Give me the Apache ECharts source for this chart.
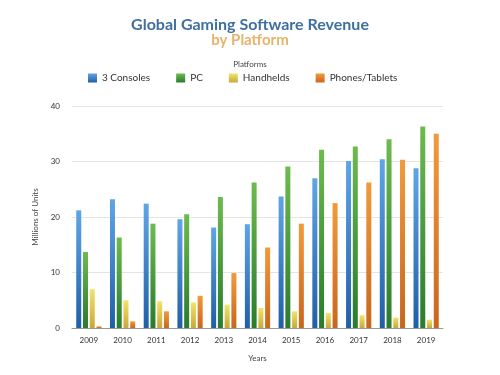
<!DOCTYPE html>
<html>
<head>
<meta charset="utf-8">
<script src="https://cdn.jsdelivr.net/npm/echarts@6/dist/echarts.min.js"></script>
<style>
html, body { margin: 0; padding: 0; background: #fff; }
#chart { width: 500px; height: 375px; }
</style>
</head>
<body>
<div id="chart"></div>
<script>
const years = ['2009', '2010', '2011', '2012', '2013', '2014', '2015', '2016', '2017', '2018', '2019'];
const consoles = [21.2, 23.2, 22.4, 19.6, 18.1, 18.7, 23.7, 27.0, 30.1, 30.4, 28.8];
const pc = [13.7, 16.3, 18.8, 20.5, 23.6, 26.2, 29.1, 32.1, 32.7, 34.0, 36.3];
const handhelds = [7.0, 5.0, 4.8, 4.6, 4.2, 3.6, 3.0, 2.7, 2.3, 1.9, 1.5];
const phones = [0.3, 1.2, 3.0, 5.8, 9.9, 14.5, 18.8, 22.5, 26.2, 30.3, 35.0];

const font = 'Lato, "Open Sans", sans-serif';

function grad(top, bottom) {
    return new echarts.graphic.LinearGradient(0, 0, 0, 1, [
        {offset: 0, color: top},
        {offset: 1, color: bottom}
    ]);
}

const chart = echarts.init(document.getElementById('chart'));
const mk = (name, data, top, bottom) => ({
    name: name,
    type: 'bar',
    data: data,
    barWidth: 5,
    barGap: '35%',
    itemStyle: {color: grad(top, bottom)}
});

chart.setOption({
    animation: false,
    title: [{
        text: 'Global Gaming Software Revenue',
        left: 'center',
        top: 12,
        textStyle: {fontFamily: font, fontSize: 16, fontWeight: 'bold', color: '#3f6f9f'}
    }, {
        text: 'by Platform',
        left: 'center',
        top: 28,
        textStyle: {fontFamily: font, fontSize: 15, fontWeight: 'bold', color: '#e8b36a'}
    }, {
        text: 'Platforms',
        left: 'center',
        top: 55,
        textStyle: {fontFamily: font, fontSize: 8, fontWeight: 'normal', color: '#444'}
    }],
    legend: {
        top: 68,
        left: 83,
        itemWidth: 9,
        itemHeight: 9,
        itemGap: 26,
        icon: 'rect',
        textStyle: {fontFamily: font, fontSize: 10, color: '#333'},
        data: ['3 Consoles', 'PC', 'Handhelds', 'Phones/Tablets']
    },
    grid: {left: 72, right: 57, top: 106, bottom: 47},
    xAxis: {
        type: 'category',
        data: years,
        name: 'Years',
        nameLocation: 'middle',
        nameGap: 26,
        nameTextStyle: {fontFamily: font, fontSize: 8, color: '#444'},
        axisTick: {show: false},
        axisLine: {lineStyle: {color: '#999'}},
        axisLabel: {fontFamily: font, fontSize: 8, color: '#333', interval: 0, margin: 8}
    },
    yAxis: {
        type: 'value',
        min: 0,
        max: 40,
        interval: 10,
        name: 'Millions of Units',
        nameLocation: 'middle',
        nameGap: 17,
        nameTextStyle: {fontFamily: font, fontSize: 8, color: '#444'},
        axisLabel: {fontFamily: font, fontSize: 8, color: '#333', margin: 12},
        splitLine: {lineStyle: {color: '#e4e4e4'}}
    },
    series: [
        mk('3 Consoles', consoles, '#5fa6e6', '#1f5fa6'),
        mk('PC', pc, '#6dbb4e', '#2a7b2c'),
        mk('Handhelds', handhelds, '#f2e46a', '#c9a838'),
        mk('Phones/Tablets', phones, '#f29a3a', '#c9661e')
    ]
});
</script>
</body>
</html>
